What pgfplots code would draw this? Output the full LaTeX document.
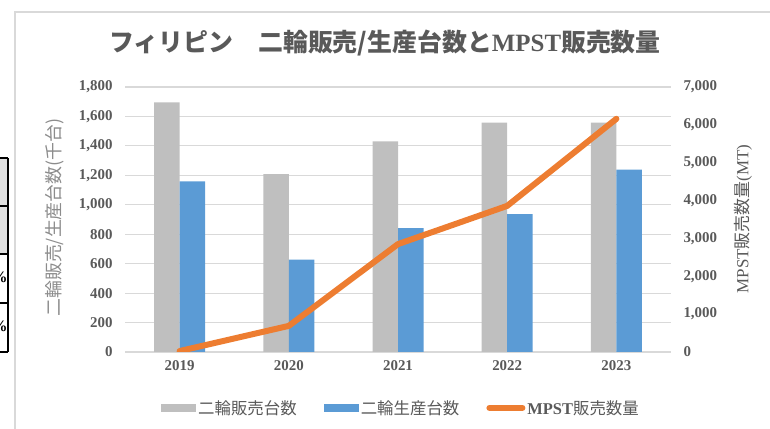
\documentclass[border=0pt]{standalone}
\usepackage{fontspec}
\setmainfont{Liberation Serif}
\newfontfamily\jp{Noto Sans CJK JP}
\usepackage{pgfplots}
\pgfplotsset{compat=1.18}
\definecolor{barGray}{HTML}{BFBFBF}
\definecolor{barBlue}{HTML}{5B9BD5}
\definecolor{lineOrange}{HTML}{ED7D31}
\definecolor{gridGray}{HTML}{D9D9D9}
\definecolor{textGray}{HTML}{595959}
\definecolor{labelGray}{HTML}{8C8C8C}

\begin{document}
\begin{tikzpicture}
  \useasboundingbox (0bp,0bp) rectangle (770bp,429bp);
  % bars: sales and production (thousand units)
  \begin{axis}[
      at={(125bp,77bp)}, anchor=south west,
      width=546bp, height=265bp, scale only axis,
      xmin=-0.5, xmax=4.5, ymin=0, ymax=1800,
      ybar=0pt, bar width=25.5bp,
      axis line style={draw=none},
      major tick length=0pt,
      ymajorgrids, grid style={gridGray, line width=1.2bp},
      xtick={0,1,2,3,4},
      xticklabels={2019,2020,2021,2022,2023},
      ytick={0,200,...,1800},
      /pgf/number format/.cd, 1000 sep={,}, assume math mode=true,
      /pgfplots/.cd,
      ticklabel style={textGray, font=\bfseries\fontsize{15}{15}\selectfont},
      yticklabel style={anchor=east, xshift=-9bp},
      xticklabel style={yshift=-5bp},
      legend columns=3,
      legend cell align=left,
      legend style={at={(0.5055,-0.211)}, anchor=center, draw=none, fill=none,
        font=\fontsize{16.5}{16.5}\selectfont, text=textGray,
        /tikz/every even column/.append style={column sep=25bp}},
    ]
    \addplot[fill=barGray, draw=none,
      legend image code/.code={\fill[barGray] (0bp,-4bp) rectangle (35bp,4bp);}]
      coordinates {(0,1696) (1,1209) (2,1431) (3,1558) (4,1558)};
    \addlegendentry{\jp 二輪販売台数}
    \addplot[fill=barBlue, draw=none,
      legend image code/.code={\fill[barBlue] (0bp,-4bp) rectangle (35bp,4bp);}]
      coordinates {(0,1159) (1,628) (2,841) (3,937) (4,1238)};
    \addlegendentry{\jp 二輪生産台数}
    \addlegendimage{legend image code/.code={\draw[lineOrange, line width=6bp, line cap=round] (3bp,0bp) -- (36bp,0bp);}}
    \addlegendentry{{\bfseries MPST}{\jp 販売数量}}
  \end{axis}

  % line: MPST sales (MT), right axis
  \begin{axis}[
      at={(125bp,77bp)}, anchor=south west,
      width=546bp, height=265bp, scale only axis,
      xmin=-0.5, xmax=4.5, ymin=0, ymax=7000,
      axis line style={draw=none},
      major tick length=0pt,
      xtick=\empty,
      ytick={0,1000,...,7000},
      yticklabel pos=right,
      /pgf/number format/.cd, 1000 sep={,}, assume math mode=true,
      /pgfplots/.cd,
      ticklabel style={textGray, font=\bfseries\fontsize{15}{15}\selectfont},
      yticklabel style={anchor=west, xshift=9bp},
    ]
    \addplot[lineOrange, line width=6bp, line cap=round, line join=round]
      coordinates {(0,25) (1,690) (2,2850) (3,3860) (4,6160)};
  \end{axis}

  \begin{scope}[x=1bp, y=1bp]
    % chart frame (only top and left edges are visible)
    \draw[gridGray, line width=1.5bp] (15,0) -- (15,417) -- (770,417);

    % fragment of a table cut off at the left edge
    \fill[gray!25] (0,175) rectangle (8,271);
    \begin{scope}
      \clip (0,77) rectangle (8,271);
      \node[anchor=east, font=\bfseries\fontsize{16}{16}\selectfont] at (11,152) {\%};
      \node[anchor=east, font=\bfseries\fontsize{16}{16}\selectfont] at (11,103) {\%};
    \end{scope}
    \draw[black, line width=1.2bp] (0,271) -- (8,271) (0,223) -- (8,223)
      (0,175) -- (8,175) (0,126) -- (8,126) (0,77) -- (8,77) (8,77) -- (8,271);

    % title
    \node[textGray, font=\fontsize{25}{25}\selectfont] at (385,386)
      {{\jp\bfseries フィリピン　二輪販売/生産台数と}{\bfseries MPST}{\jp\bfseries 販売数量}};

    % axis titles
    \node[labelGray, rotate=90, font=\fontsize{18}{18}\selectfont] at (55,211.5)
      {\jp 二輪販売/生産台数(千台)};
    \node[textGray, rotate=90, font=\fontsize{17}{17}\selectfont] at (743,210)
      {MPST{\jp 販売数量}(MT)};
  \end{scope}
\end{tikzpicture}
\end{document}
